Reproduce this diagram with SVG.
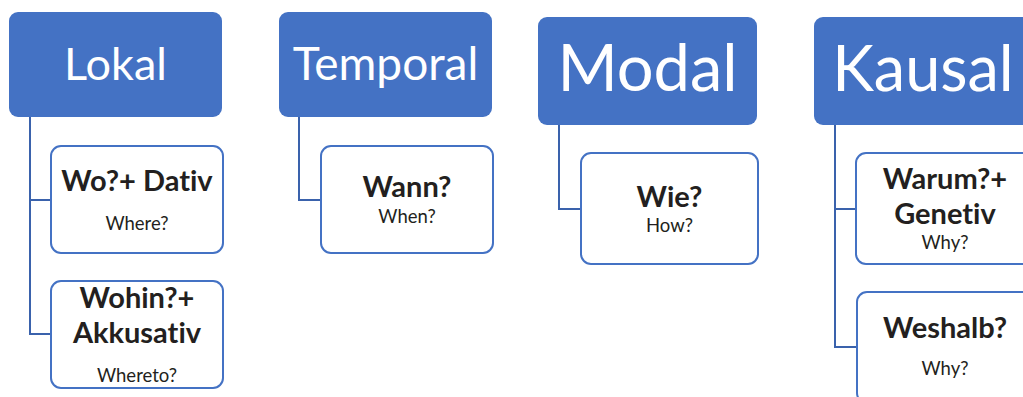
<svg xmlns="http://www.w3.org/2000/svg" width="1023" height="397" viewBox="0 0 1023 397">
  <style>
    text { font-variant-ligatures: none; font-feature-settings: "liga" 0, "dlig" 0; }
    .head { fill: #4472C4; }
    .head-text { fill: #FFFFFF; font-family: Lato, "Open Sans", sans-serif; text-anchor: middle; }
    .child { fill: #FFFFFF; stroke: #4472C4; stroke-width: 2; }
    .main { fill: #231F20; font-family: Lato, "Open Sans", sans-serif; font-weight: bold; font-size: 29px; text-anchor: middle; }
    .sub { fill: #231F20; font-family: Lato, "Open Sans", sans-serif; font-size: 18.5px; text-anchor: middle; }
    .conn { fill: none; stroke: #3A62AC; stroke-width: 2; }
  </style>
  <rect width="1023" height="397" fill="#FFFFFF"/>

  <!-- tree connectors -->
  <g id="connectors">
    <path class="conn" d="M30 117 V334 H51 M30 200 H51"/>
    <path class="conn" d="M299 117 V200 H321"/>
    <path class="conn" d="M559 125 V209 H581"/>
    <path class="conn" d="M835 125 V347 H857 M835 209 H856"/>
  </g>

  <!-- Lokal branch -->
  <g id="lokal">
    <rect class="head" x="9" y="12" width="213" height="105" rx="9"/>
    <text class="head-text" x="115.5" y="80" font-size="45">Lokal</text>
  </g>
  <g id="wo">
    <rect class="child" x="51" y="146" width="172" height="107" rx="10"/>
    <text class="main" x="137" y="191" font-size="28">Wo?+ Dativ</text>
    <text class="sub" x="137" y="230">Where?</text>
  </g>
  <g id="wohin">
    <rect class="child" x="51" y="281" width="172" height="107" rx="10"/>
    <text class="main" x="137" y="308">Wohin?+</text>
    <text class="main" x="137" y="343">Akkusativ</text>
    <text class="sub" x="137" y="382">Whereto?</text>
  </g>

  <!-- Temporal branch -->
  <g id="temporal">
    <rect class="head" x="279" y="12" width="213" height="105" rx="9"/>
    <text class="head-text" x="385.5" y="80" font-size="46">Temporal</text>
  </g>
  <g id="wann">
    <rect class="child" x="321" y="146" width="172" height="107" rx="10"/>
    <text class="main" x="407" y="197">Wann?</text>
    <text class="sub" x="407" y="223">When?</text>
  </g>

  <!-- Modal branch -->
  <g id="modal">
    <rect class="head" x="538" y="17" width="219" height="108" rx="9"/>
    <text class="head-text" x="647.5" y="91" font-size="65">Modal</text>
  </g>
  <g id="wie">
    <rect class="child" x="581" y="153" width="177" height="111" rx="10"/>
    <text class="main" x="669.5" y="207">Wie?</text>
    <text class="sub" x="669.5" y="232">How?</text>
  </g>

  <!-- Kausal branch -->
  <g id="kausal">
    <rect class="head" x="814" y="17" width="219" height="108" rx="9"/>
    <text class="head-text" x="923" y="91" font-size="63">Kausal</text>
  </g>
  <g id="warum">
    <rect class="child" x="856" y="153" width="178" height="111" rx="10"/>
    <text class="main" x="945" y="189">Warum?+</text>
    <text class="main" x="945" y="224">Genetiv</text>
    <text class="sub" x="945" y="249">Why?</text>
  </g>
  <g id="weshalb">
    <rect class="child" x="857" y="292" width="178" height="111" rx="10"/>
    <text class="main" x="945" y="338">Weshalb?</text>
    <text class="sub" x="945" y="375">Why?</text>
  </g>
</svg>
